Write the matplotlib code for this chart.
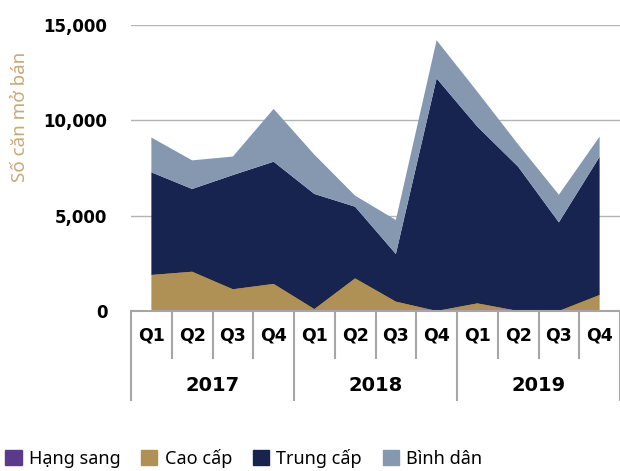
import numpy as np
import matplotlib.pyplot as plt
import matplotlib.patches as mpatches

### data (units sold / launched)
quarters = ['Q1', 'Q2', 'Q3', 'Q4'] * 3
years = ['2017', '2018', '2019']
hang_sang = [0, 0, 0, 0, 0, 0, 0, 0, 0, 0, 0, 0]
cao_cap = [1890, 2060, 1140, 1420, 100, 1710, 490, 0, 400, 0, 0, 840]
trung_cap = [5385, 4340, 5990, 6410, 6040, 3760, 2500, 12200, 9270, 7570, 4650, 7250]
binh_dan = [1825, 1500, 970, 2770, 2060, 580, 1780, 2000, 1830, 1170, 1450, 1060]

series_names = ['Hạng sang', 'Cao cấp', 'Trung cấp', 'Bình dân']
colors = ['#5b3a8c', '#b09155', '#17244f', '#8598b0']

yticks = [0, 5000, 10000, 15000]

### figure
fig = plt.figure(figsize=(6.2, 4.71), dpi=100)
ax = fig.add_axes([131/620, 1-311/471, 1-131/620, (311-25)/471])

x = np.arange(len(quarters))
ax.stackplot(x, hang_sang, cao_cap, trung_cap, binh_dan, colors=colors, linewidth=0, zorder=2)

ax.set_xlim(-0.5, len(quarters)-0.5)
ax.set_ylim(0, 15000)

### y axis
ax.set_yticks(yticks)
ax.set_yticklabels([f'{v:,}' for v in yticks], fontsize=12, fontweight='bold')
ax.tick_params(axis='y', length=0, pad=17)
ax.yaxis.grid(True, color='#b4b4b4', linewidth=1, zorder=0)
ax.set_axisbelow(True)
for s in ['top', 'right', 'left']:
    ax.spines[s].set_visible(False)
ax.spines['bottom'].set_color('#a6a6a6')
ax.spines['bottom'].set_linewidth(1.5)
ax.set_xticks([])

fig.text(20/620, 1-117/471, 'Số căn mở bán', rotation=90, ha='center', va='center',
         fontsize=13.5, color='#c9a877', family=['Noto Sans', 'DejaVu Sans'])

### multi-level x axis table
tr = ax.get_xaxis_transform()
grid_col = '#a6a6a6'
for i in range(len(quarters)+1):
    b = i - 0.5
    if i % 4 == 0:
        ax.plot([b, b], [0, -0.311], transform=tr, color=grid_col, lw=1.5, clip_on=False)
    else:
        ax.plot([b, b], [0, -0.164], transform=tr, color=grid_col, lw=1.5, clip_on=False)
for i, q in enumerate(quarters):
    ax.text(i, -0.084, q, transform=tr, ha='center', va='center', fontsize=12.5, fontweight='bold')
for j, yr in enumerate(years):
    ax.text(j*4 + 1.5, -0.259, yr, transform=tr, ha='center', va='center', fontsize=14, fontweight='bold')

### legend
handles = [mpatches.Patch(color=c, label=n) for c, n in zip(colors, series_names)]
fig.legend(handles=handles, loc='lower left', bbox_to_anchor=(-0.003, -0.008), ncol=4, frameon=False,
           handlelength=0.9, handleheight=0.9, handletextpad=0.4, columnspacing=1.15,
           borderaxespad=0.0, prop={'family': ['Noto Sans', 'DejaVu Sans'], 'size': 13})

plt.savefig('out.png', dpi=100)
plt.close(fig)
